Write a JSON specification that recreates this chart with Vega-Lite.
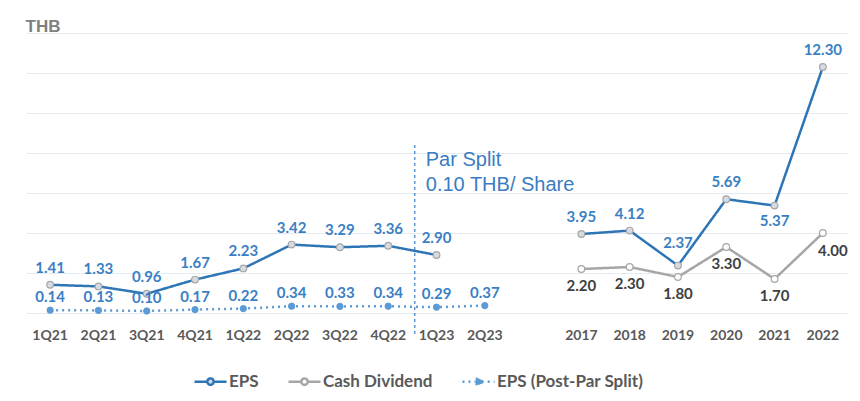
{
  "$schema": "https://vega.github.io/schema/vega-lite/v6.json",
  "width": 821,
  "height": 280,
  "autosize": {"type": "none"},
  "padding": {"left": 26, "top": 33, "right": 13, "bottom": 88},
  "background": "#ffffff",
  "config": {
    "view": {"stroke": null},
    "font": "Lato"
  },
  "data": {
    "values": [
      {"period": "1Q21", "series": "EPS", "block": "Q", "value": 1.41},
      {"period": "2Q21", "series": "EPS", "block": "Q", "value": 1.33},
      {"period": "3Q21", "series": "EPS", "block": "Q", "value": 0.96},
      {"period": "4Q21", "series": "EPS", "block": "Q", "value": 1.67},
      {"period": "1Q22", "series": "EPS", "block": "Q", "value": 2.23},
      {"period": "2Q22", "series": "EPS", "block": "Q", "value": 3.42},
      {"period": "3Q22", "series": "EPS", "block": "Q", "value": 3.29},
      {"period": "4Q22", "series": "EPS", "block": "Q", "value": 3.36},
      {"period": "1Q23", "series": "EPS", "block": "Q", "value": 2.90},
      {"period": "1Q21", "series": "EPS (Post-Par Split)", "block": "Q", "value": 0.14},
      {"period": "2Q21", "series": "EPS (Post-Par Split)", "block": "Q", "value": 0.13},
      {"period": "3Q21", "series": "EPS (Post-Par Split)", "block": "Q", "value": 0.10},
      {"period": "4Q21", "series": "EPS (Post-Par Split)", "block": "Q", "value": 0.17},
      {"period": "1Q22", "series": "EPS (Post-Par Split)", "block": "Q", "value": 0.22},
      {"period": "2Q22", "series": "EPS (Post-Par Split)", "block": "Q", "value": 0.34},
      {"period": "3Q22", "series": "EPS (Post-Par Split)", "block": "Q", "value": 0.33},
      {"period": "4Q22", "series": "EPS (Post-Par Split)", "block": "Q", "value": 0.34},
      {"period": "1Q23", "series": "EPS (Post-Par Split)", "block": "Q", "value": 0.29},
      {"period": "2Q23", "series": "EPS (Post-Par Split)", "block": "Q", "value": 0.37},
      {"period": "2017", "series": "EPS", "block": "Y", "value": 3.95},
      {"period": "2018", "series": "EPS", "block": "Y", "value": 4.12},
      {"period": "2019", "series": "EPS", "block": "Y", "value": 2.37},
      {"period": "2020", "series": "EPS", "block": "Y", "value": 5.69},
      {"period": "2021", "series": "EPS", "block": "Y", "value": 5.37},
      {"period": "2022", "series": "EPS", "block": "Y", "value": 12.30},
      {"period": "2017", "series": "Cash Dividend", "block": "Y", "value": 2.20},
      {"period": "2018", "series": "Cash Dividend", "block": "Y", "value": 2.30},
      {"period": "2019", "series": "Cash Dividend", "block": "Y", "value": 1.80},
      {"period": "2020", "series": "Cash Dividend", "block": "Y", "value": 3.30},
      {"period": "2021", "series": "Cash Dividend", "block": "Y", "value": 1.70},
      {"period": "2022", "series": "Cash Dividend", "block": "Y", "value": 4.00}
    ]
  },
  "encoding": {
    "x": {
      "field": "period",
      "type": "nominal",
      "scale": {
        "type": "band",
        "paddingInner": 0,
        "paddingOuter": 0,
        "domain": ["1Q21", "2Q21", "3Q21", "4Q21", "1Q22", "2Q22", "3Q22", "4Q22", "1Q23", "2Q23", "gap", "2017", "2018", "2019", "2020", "2021", "2022"]
      },
      "axis": {
        "title": null,
        "labelAngle": 0,
        "labelExpr": "datum.value == 'gap' ? '' : datum.label",
        "labelFont": "Lato",
        "labelFontSize": 14,
        "labelFontWeight": "bold",
        "labelColor": "#595959",
        "labelPadding": 15,
        "ticks": false,
        "domain": false,
        "grid": false
      }
    },
    "y": {
      "field": "value",
      "type": "quantitative",
      "scale": {"domain": [0, 14], "nice": false},
      "axis": {
        "title": "THB",
        "titleAngle": 0,
        "titleAlign": "left",
        "titleBaseline": "alphabetic",
        "titleX": -1,
        "titleY": -2,
        "titleFont": "Liberation Sans",
        "titleFontSize": 17,
        "titleFontWeight": "bold",
        "titleColor": "#7f7f7f",
        "values": [0, 2, 4, 6, 8, 10, 12, 14],
        "labels": false,
        "ticks": false,
        "domain": false,
        "grid": true,
        "gridColor": "#e4eaf1",
        "gridWidth": 1.2
      }
    }
  },
  "layer": [
    {
      "mark": {"type": "line", "strokeWidth": 2.5},
      "encoding": {
        "detail": {"field": "block"},
        "color": {
          "field": "series",
          "type": "nominal",
          "scale": {
            "domain": ["EPS", "Cash Dividend", "EPS (Post-Par Split)"],
            "range": ["#2e75b6", "#a6a6a6", "#5b9bd5"]
          },
          "legend": {
            "title": null,
            "orient": "none",
            "direction": "horizontal",
            "legendX": 167,
            "legendY": 331,
            "symbolType": "M -1 0 L -0.2 0 M 0.2 0 L 1 0 M 0.2 0 A 0.2 0.2 0 1 1 -0.2 0 A 0.2 0.2 0 1 1 0.2 0",
            "symbolSize": 1024,
            "symbolStrokeWidth": 2.5,
            "labelFont": "Lato",
            "labelFontSize": 17,
            "labelFontWeight": "bold",
            "labelColor": "#595959",
            "labelOffset": 1,
            "columnPadding": 24,
            "encode": {
              "symbols": {
                "update": {
                  "fill": {"signal": "datum.value === 'EPS (Post-Par Split)' ? '#5b9bd5' : (datum.value === 'EPS' ? '#d6dbe2' : '#ffffff')"},
                  "fillOpacity": {"value": 1}
                }
              }
            }
          }
        },
        "strokeDash": {
          "field": "series",
          "type": "nominal",
          "scale": {
            "domain": ["EPS", "Cash Dividend", "EPS (Post-Par Split)"],
            "range": [[1, 0], [1, 0], [2, 4]]
          },
          "legend": null
        }
      }
    },
    {
      "transform": [{"filter": "datum.series == 'EPS'"}],
      "mark": {"type": "point", "filled": true, "size": 45, "fill": "#d6dbe2", "stroke": "#a6a6a6", "strokeWidth": 1.2, "opacity": 1}
    },
    {
      "transform": [{"filter": "datum.series == 'Cash Dividend'"}],
      "mark": {"type": "point", "filled": true, "size": 45, "fill": "#ffffff", "stroke": "#a6a6a6", "strokeWidth": 1.2, "opacity": 1}
    },
    {
      "transform": [{"filter": "datum.series == 'EPS (Post-Par Split)'"}],
      "mark": {"type": "point", "filled": true, "size": 40, "fill": "#5b9bd5", "stroke": "#5b9bd5", "strokeWidth": 1, "opacity": 1}
    },
    {
      "transform": [{"filter": "datum.series == 'EPS' && datum.period != '2021' && datum.period != '2019'"}],
      "mark": {"type": "text", "dy": -17, "baseline": "middle", "font": "Lato", "fontSize": 15, "fontWeight": "bold", "color": "#3a7fc4"},
      "encoding": {"text": {"field": "value", "type": "quantitative", "format": ".2f"}}
    },
    {
      "transform": [{"filter": "datum.series == 'EPS' && datum.period == '2019'"}],
      "mark": {"type": "text", "dy": -23, "baseline": "middle", "font": "Lato", "fontSize": 15, "fontWeight": "bold", "color": "#3a7fc4"},
      "encoding": {"text": {"field": "value", "type": "quantitative", "format": ".2f"}}
    },
    {
      "transform": [{"filter": "datum.series == 'EPS' && datum.period == '2021'"}],
      "mark": {"type": "text", "dy": 15, "baseline": "middle", "font": "Lato", "fontSize": 15, "fontWeight": "bold", "color": "#3a7fc4"},
      "encoding": {"text": {"field": "value", "type": "quantitative", "format": ".2f"}}
    },
    {
      "transform": [{"filter": "datum.series == 'EPS (Post-Par Split)'"}],
      "mark": {"type": "text", "dy": -13, "baseline": "middle", "font": "Lato", "fontSize": 15, "fontWeight": "bold", "color": "#3a7fc4"},
      "encoding": {"text": {"field": "value", "type": "quantitative", "format": ".2f"}}
    },
    {
      "transform": [{"filter": "datum.series == 'Cash Dividend' && datum.period != '2022'"}],
      "mark": {"type": "text", "dy": 17, "baseline": "middle", "font": "Lato", "fontSize": 15, "fontWeight": "bold", "color": "#404040"},
      "encoding": {"text": {"field": "value", "type": "quantitative", "format": ".2f"}}
    },
    {
      "transform": [{"filter": "datum.series == 'Cash Dividend' && datum.period == '2022'"}],
      "mark": {"type": "text", "dy": 18, "dx": 10, "baseline": "middle", "font": "Lato", "fontSize": 15, "fontWeight": "bold", "color": "#404040"},
      "encoding": {"text": {"field": "value", "type": "quantitative", "format": ".2f"}}
    },
    {
      "data": {"values": [{"period": "1Q23", "top": 8.4, "bottom": -1.2}]},
      "mark": {"type": "rule", "color": "#3a7fc4", "strokeWidth": 1.2, "strokeDash": [3, 3]},
      "encoding": {
        "x": {"field": "period", "type": "nominal", "bandPosition": 0.05},
        "y": {"field": "top", "type": "quantitative"},
        "y2": {"field": "bottom"}
      }
    },
    {
      "data": {"values": [{"period": "1Q23", "pos": 7.35, "note": "Par Split\n0.10 THB/ Share"}]},
      "mark": {"type": "text", "align": "left", "baseline": "alphabetic", "dx": 11, "lineBreak": "\n", "lineHeight": 25, "font": "Liberation Sans", "fontSize": 20, "color": "#3a7cc2"},
      "encoding": {
        "x": {"field": "period", "type": "nominal", "bandPosition": 0.05},
        "y": {"field": "pos", "type": "quantitative"},
        "text": {"field": "note"}
      }
    }
  ]
}
